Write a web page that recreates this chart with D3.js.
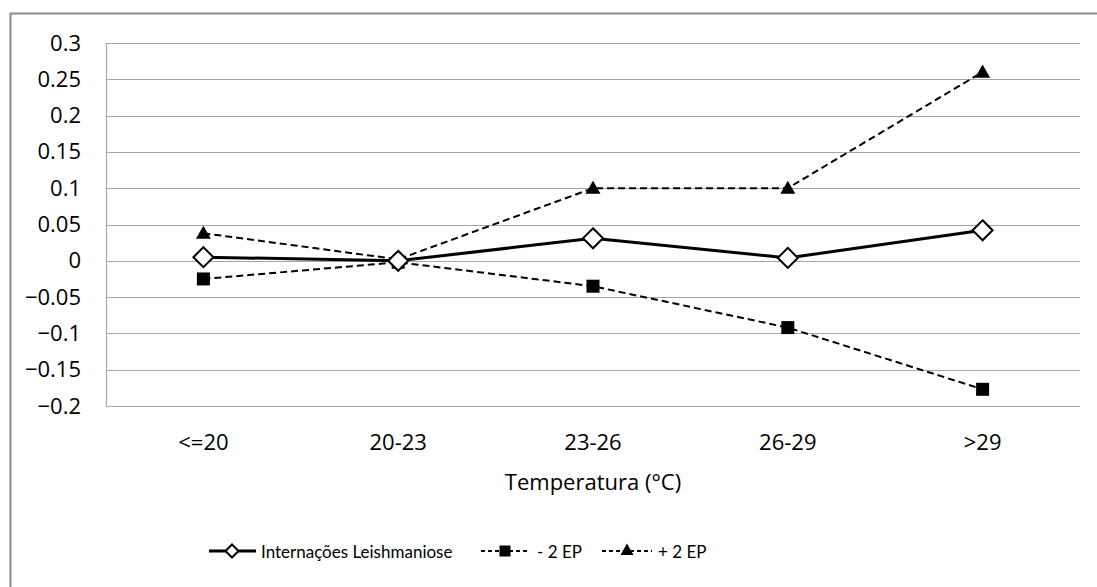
<!DOCTYPE html>
<html><head><meta charset="utf-8">
<script src="https://cdn.jsdelivr.net/npm/d3@7"></script>
<style>body{margin:0;background:#fff}svg{display:block}</style>
</head><body>
<svg id="c" width="1097" height="587"></svg>
<script>
const categories = ["<=20", "20-23", "23-26", "26-29", ">29"];
const internacoes = [0.005, 0.0, 0.031, 0.004, 0.042];
const menos2EP = [-0.025, -0.002, -0.035, -0.092, -0.177];
const mais2EP = [0.038, 0.002, 0.1, 0.1, 0.26];
const yTicks = [0.3, 0.25, 0.2, 0.15, 0.1, 0.05, 0, -0.05, -0.1, -0.15, -0.2];
const seriesNames = ["Internações Leishmaniose", "- 2 EP", "+ 2 EP"];
const xTitle = "Temperatura (°C)";

const svg = d3.select("#c");
const font = "'Open Sans', sans-serif";
const legendFont = "Lato, 'Open Sans', sans-serif";
const axisSize = 22, legendSize = 17;
const L = 106, R = 1080, T = 43, B = 406;
const x = d3.scaleBand().domain(categories).range([L, R]);
const y = d3.scaleLinear().domain([-0.2, 0.3]).range([B, T]);

// outer border (top & left visible)
svg.append("line").attr("x1", 10).attr("x2", 1097).attr("y1", 13.5).attr("y2", 13.5).attr("stroke", "#8a8a8a").attr("stroke-width", 2);
svg.append("line").attr("x1", 10.5).attr("x2", 10.5).attr("y1", 13).attr("y2", 587).attr("stroke", "#8a8a8a").attr("stroke-width", 2);

// gridlines
svg.append("g").selectAll("line").data(yTicks).join("line")
  .attr("x1", L).attr("x2", R)
  .attr("y1", d => Math.round(y(d)) + 0.5).attr("y2", d => Math.round(y(d)) + 0.5)
  .attr("stroke", "#a6a6a6").attr("stroke-width", 1.2);
svg.append("line").attr("x1", L + 0.5).attr("x2", L + 0.5).attr("y1", T).attr("y2", B + 0.5).attr("stroke", "#a6a6a6").attr("stroke-width", 1.2);

// y axis labels
const yAxis = d3.axisLeft(y).tickValues(yTicks).tickSize(0).tickPadding(25).tickFormat(d => d3.format("")(+d.toFixed(2)));
const gy = svg.append("g").attr("transform", `translate(${L},0)`).call(yAxis);
gy.select(".domain").remove();
gy.selectAll("text").attr("font-family", font).attr("font-size", axisSize).attr("fill", "#000");

// x axis labels
const xAxis = d3.axisBottom(x).tickSize(0).tickPadding(28);
const gx = svg.append("g").attr("transform", `translate(0,${B})`).call(xAxis);
gx.select(".domain").remove();
gx.selectAll("text").attr("font-family", font).attr("font-size", axisSize).attr("fill", "#000");

svg.append("text").attr("x", (L + R) / 2).attr("y", 490).attr("text-anchor", "middle")
  .attr("font-family", font).attr("font-size", axisSize).text(xTitle);

const cx = d => x(d) + x.bandwidth() / 2;
const line = d3.line().x((d, i) => cx(categories[i])).y(d => y(d));

function drawSeries(vals, dashed, width, marker) {
  svg.append("path").datum(vals).attr("d", line).attr("fill", "none")
    .attr("stroke", "#000").attr("stroke-width", width)
    .attr("stroke-dasharray", dashed ? "7,4" : null);
  vals.forEach((v, i) => marker(cx(categories[i]), y(v)));
}
function diamond(px, py, s = 10) {
  svg.append("path").attr("d", `M${px},${py - s}L${px + s},${py}L${px},${py + s}L${px - s},${py}Z`)
    .attr("fill", "#fff").attr("stroke", "#000").attr("stroke-width", 2);
}
function square(px, py, s = 6.5) {
  svg.append("rect").attr("x", px - s).attr("y", py - s).attr("width", 2 * s).attr("height", 2 * s).attr("fill", "#000");
}
function triangle(px, py, s = 7.5) {
  svg.append("path").attr("d", `M${px},${py - s}L${px + s},${py + s * 0.75}L${px - s},${py + s * 0.75}Z`).attr("fill", "#000");
}

drawSeries(menos2EP, true, 2, (a, b) => square(a, b));
drawSeries(mais2EP, true, 2, (a, b) => triangle(a, b));
drawSeries(internacoes, false, 3, (a, b) => diamond(a, b));

// legend
const ly = 551;
svg.append("line").attr("x1", 209).attr("x2", 256).attr("y1", ly).attr("y2", ly).attr("stroke", "#000").attr("stroke-width", 3);
diamond(232, ly, 6.5);
svg.append("text").attr("x", 261).attr("y", ly + 7).attr("font-family", legendFont).attr("font-size", legendSize).text(seriesNames[0]);

svg.append("line").attr("x1", 481).attr("x2", 530).attr("y1", ly).attr("y2", ly).attr("stroke", "#000").attr("stroke-width", 2).attr("stroke-dasharray", "4,3");
square(505, ly, 5.5);
svg.append("text").attr("x", 537).attr("y", ly + 7).attr("font-family", legendFont).attr("font-size", legendSize).text(seriesNames[1]);

svg.append("line").attr("x1", 602).attr("x2", 652).attr("y1", ly).attr("y2", ly).attr("stroke", "#000").attr("stroke-width", 2).attr("stroke-dasharray", "4,3");
triangle(627, ly - 1, 6.5);
svg.append("text").attr("x", 658).attr("y", ly + 7).attr("font-family", legendFont).attr("font-size", legendSize).text(seriesNames[2]);
</script>
</body></html>
